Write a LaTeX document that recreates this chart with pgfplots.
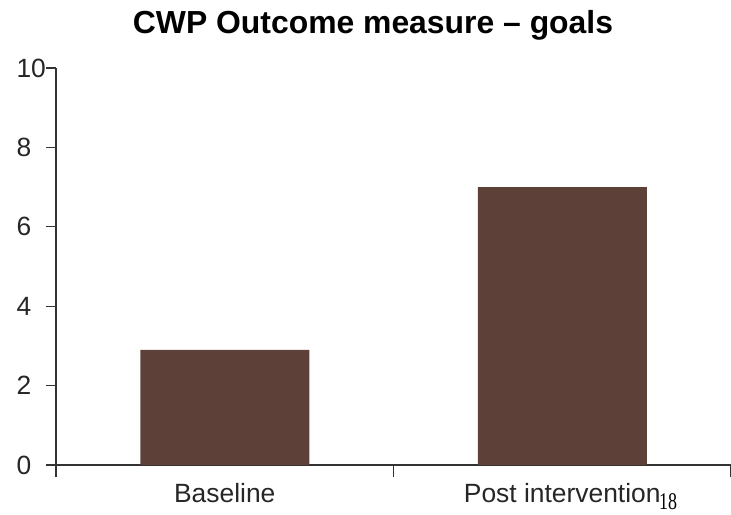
\documentclass[border=0pt]{standalone}
\usepackage{fontspec}
\setmainfont{Liberation Sans}
\newfontfamily\serifnum{Liberation Serif}
\usepackage{pgfplots}
\pgfplotsset{compat=1.18}
\definecolor{barbrown}{HTML}{5D4037}
\begin{document}
\begin{tikzpicture}
\begin{axis}[
    at={(56bp,50bp)}, anchor=south west,
    scale only axis, width=675bp, height=397bp,
    xmin=-0.5, xmax=1.5, ymin=0, ymax=10,
    axis lines=left, axis line style={-, line width=1.2bp, black!80},
    ytick={0,2,...,10},
    xtick={0,1}, xticklabels={Baseline, Post intervention},
    minor xtick={-0.5,0.5,1.5},
    tick align=outside,
    major tick length=10bp, minor tick length=12bp,
    major x tick style={draw=none},
    every tick/.style={line width=1.2bp, black!80},
    tick label style={font=\fontsize{26.5}{29}\selectfont, text=black!85},
    /pgf/number format/assume math mode=true,
    yticklabel style={anchor=west, xshift=-33bp},
    xticklabel style={yshift=-5bp},
    ybar, bar width=169bp,
]
\addplot[fill=barbrown, draw=none] coordinates {(0,2.9) (1,7.0)};
\end{axis}
\node[anchor=base, inner sep=0pt, font=\bfseries\fontsize{32}{36}\selectfont] at (373bp,481bp) {CWP Outcome measure – goals};
\node[anchor=base west, inner sep=0pt, font=\serifnum\fontsize{24}{28}\selectfont] at (659bp,6bp) {\scalebox{0.75}[1]{18}};
\pgfresetboundingbox
\path[use as bounding box] (0,0) rectangle (731bp,515bp);
\end{tikzpicture}
\end{document}
